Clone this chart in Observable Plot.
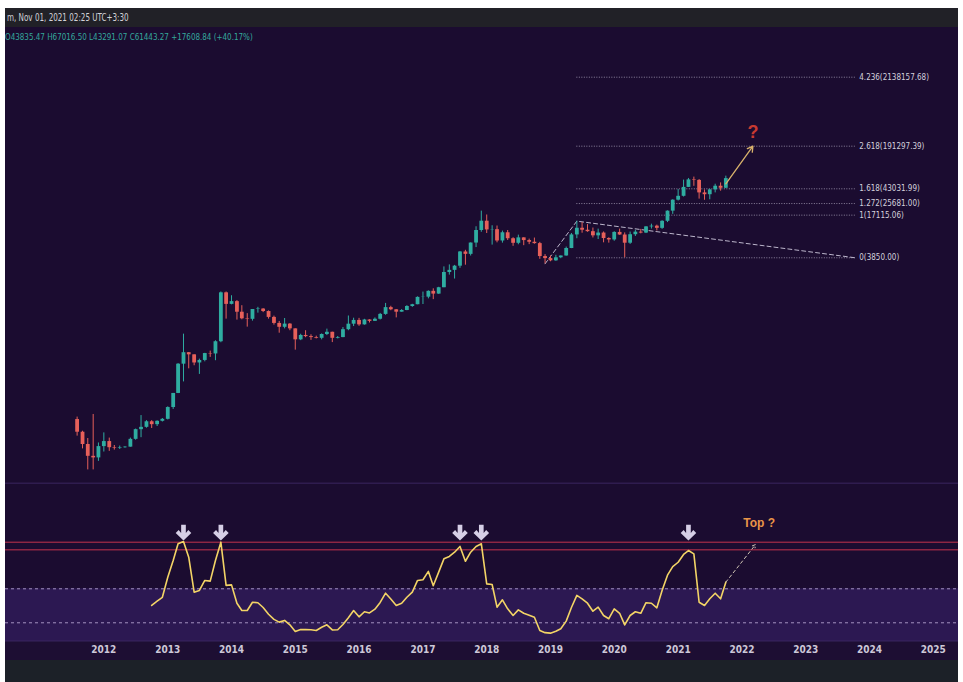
<!DOCTYPE html>
<html><head><meta charset="utf-8">
<script src="https://cdn.jsdelivr.net/npm/d3@7"></script>
<script src="https://cdn.jsdelivr.net/npm/@observablehq/plot@0.6"></script>
<style>
html,body{margin:0;padding:0;background:#fff;width:963px;height:682px;overflow:hidden;}
#wrap{position:absolute;left:5px;top:8px;width:953px;height:674px;background:#1b0c30;overflow:hidden;
  font-family:"Liberation Sans Narrow","DejaVu Sans Condensed","Liberation Sans",sans-serif;}
#hdr{position:absolute;left:0;top:0;width:953px;height:19px;background:#212127;}
#hdrtxt{position:absolute;left:2px;top:0;color:#d2d2d8;font-size:10px;line-height:19px;white-space:nowrap;transform:scaleX(0.8);transform-origin:left center;}
#ohlc{position:absolute;top:23px;left:0px;color:#34a89c;font-size:9.5px;white-space:nowrap;transform:scaleX(0.84);transform-origin:left center;}
#top{position:absolute;top:19px;left:0;}
#bot{position:absolute;top:474px;left:0;}
#foot{position:absolute;top:652px;left:0;width:953px;height:22px;background:#1c2128;}
svg{display:block;}
</style></head>
<body>
<div id="wrap">
  <div id="hdr"><div id="hdrtxt">m, Nov 01, 2021 02:25 UTC+3:30</div></div>
  <div id="top"></div>
  <div id="ohlc">O43835.47 H67016.50 L43291.07 C61443.27 +17608.84 (+40.17%)</div>
  <div id="bot"></div>
  <div id="foot"></div>
</div>
<script>
// ---------- Monthly candles, Aug 2011 .. Oct 2021 ----------
const candleStart = "2011-08-01", candleEnd = "2021-11-01";
const open = [
  13.4, 8.6, 5.6, 3.7, 3.5,
  5.2, 6.2, 5.0, 4.9, 5.0, 5.1, 6.7, 9.4, 10.2, 12.4, 11.2, 12.6,
  13.5, 20.4, 33.4, 93, 139, 129, 97, 106, 135, 133, 204, 1130,
  754, 830, 573, 455, 447, 630, 640, 587, 478, 387, 338, 378,
  320, 218, 254, 244, 236, 230, 263, 284, 230, 236, 311, 377,
  430, 368, 437, 416, 448, 531, 673, 624, 574, 609, 700, 745,
  963, 970, 1190, 1080, 1350, 2300, 2480, 2870, 4720, 4340, 6450, 10000,
  13850, 10200, 10300, 6930, 9240, 7500, 6390, 7730, 7030, 6630, 6320, 4020,
  3740, 3460, 3850, 4100, 5330, 8570, 10820, 10100, 9600, 8300, 9150, 7550,
  7190, 9350, 8540, 6410, 8630, 9450, 9140, 11350, 11650, 10780, 13800, 19700,
  28900, 33100, 45200, 58800, 57700, 37300, 35000, 41500, 47100, 43835.47
];
const high = [
  14.6, 8.9, 6.9, 16.0, 5.9,
  8.4, 7.0, 5.4, 5.3, 5.2, 7.0, 9.6, 15.4, 12.9, 12.9, 12.8, 13.9,
  20.9, 33.4, 95, 266, 140, 129, 111, 136, 147, 211, 1163, 1163,
  1020, 860, 720, 545, 630, 680, 650, 600, 500, 415, 460, 385,
  320, 265, 300, 260, 248, 268, 317, 285, 245, 335, 502, 465,
  462, 447, 440, 469, 550, 780, 705, 628, 628, 720, 756, 980,
  1160, 1210, 1300, 1370, 2800, 3000, 2950, 4800, 5000, 6470, 11400, 19700,
  17200, 11800, 11700, 9800, 10000, 7760, 8500, 7760, 7400, 7680, 6600, 4300,
  4100, 4200, 4100, 5600, 9000, 13880, 13200, 12300, 10900, 10500, 9500, 7750,
  9580, 10500, 9200, 9470, 10080, 10400, 11450, 12480, 12070, 14100, 19850, 29300,
  41950, 58350, 61800, 64800, 59500, 41300, 42400, 50500, 52900, 67016.5
];
const low = [
  7.5, 4.8, 2.3, 2.3, 3.1,
  4.3, 4.4, 4.6, 4.7, 4.9, 5.1, 6.5, 7.1, 9.9, 9.8, 10.5, 12.3,
  13.2, 19.1, 33.2, 50, 79, 88, 65, 101, 118, 105, 197, 450,
  742, 435, 440, 340, 420, 555, 565, 450, 365, 275, 320, 300,
  152, 212, 235, 214, 225, 218, 253, 198, 225, 235, 300, 347,
  350, 364, 393, 415, 436, 515, 604, 470, 574, 604, 680, 745,
  750, 915, 890, 1070, 1350, 2100, 1830, 2660, 2970, 4100, 5500, 9400,
  9000, 6000, 6500, 6430, 7050, 5750, 6070, 5880, 6100, 6200, 3650, 3120,
  3350, 3400, 3730, 4080, 5300, 7500, 9100, 9400, 7700, 7300, 6500, 6430,
  6870, 8450, 3850, 6150, 8120, 8900, 8990, 10520, 9850, 10400, 13200, 17600,
  28100, 32300, 45000, 47000, 30000, 28800, 29300, 37300, 39600, 43291.07
];
const close = [
  8.6, 5.6, 3.7, 3.5, 5.2,
  6.2, 5.0, 4.9, 5.0, 5.1, 6.7, 9.4, 10.2, 12.4, 11.2, 12.6, 13.5,
  20.4, 33.4, 93, 139, 129, 97, 106, 135, 133, 204, 1130, 754,
  830, 573, 455, 447, 630, 640, 587, 478, 387, 338, 378, 320,
  218, 254, 244, 236, 230, 263, 284, 230, 236, 311, 377, 430,
  368, 437, 416, 448, 531, 673, 624, 574, 609, 700, 745, 963,
  970, 1190, 1080, 1350, 2300, 2480, 2870, 4720, 4340, 6450, 10000, 13850,
  10200, 10300, 6930, 9240, 7500, 6390, 7730, 7030, 6630, 6320, 4020, 3740,
  3460, 3850, 4100, 5330, 8570, 10820, 10100, 9600, 8300, 9150, 7550, 7190,
  9350, 8540, 6410, 8630, 9450, 9140, 11350, 11650, 10780, 13800, 19700, 28900,
  33100, 45200, 58800, 57700, 37300, 35000, 41500, 47100, 43835.47, 61443.27
];

// ---------- Fibonacci extension ----------
const fibRatios = ["4.236", "2.618", "1.618", "1.272", "1", "0"];
const fibPrices = [2138157.68, 191297.39, 43031.99, 25681.00, 17115.06, 3850.00];
const fibFrom = "2019-06-01", fibTo = "2023-10-12";
const trendDates = ["2018-12-01", "2019-06-01", "2023-10-12"];
const trendPrices = [3122, 13880, 3850];
const projDates = ["2021-10-01", "2022-03-05"];
const projPrices = [51300, 191297.39];
const questionDate = "2022-03-05", questionPrice = 313000;

// ---------- Oscillator (monthly), Oct 2012 .. Oct 2021 ----------
const oscStart = "2012-10-01";
const osc = [
  60.2, 62.7, 65,
  76.8, 86.6, 96.5, 97.8, 88.6, 68, 69, 74.9, 74.5, 86.6, 97.4, 72,
  72.3, 61.5, 57.2, 57.2, 62.1, 61.8, 59, 55, 52, 50.4, 51.4, 48.8,
  44.9, 46.1, 46, 45.9, 45.5, 47.4, 48.8, 45.8, 45.9, 49, 53, 57.2,
  53.5, 56.5, 55.8, 58, 62, 67.4, 64, 60.2, 61.5, 65, 68, 74.9,
  75.3, 80.2, 71.8, 79.8, 87.6, 89, 91.5, 94.9, 86.2, 91.5, 94.9, 96.5,
  72.9, 72.5, 59.2, 63.5, 58.2, 54.3, 57.6, 55.6, 54.5, 53.3, 45.5, 44.2,
  43.9, 45, 46.5, 51, 59, 66.1, 64.1, 61.5, 56.8, 59.2, 54.3, 52.4,
  58.2, 55.6, 48.8, 54.3, 56.5, 55.6, 61.8, 61.5, 58.8, 69, 78, 83,
  85.6, 90.2, 92.5, 90.5, 62.1, 60.2, 64.1, 67.4, 64.1, 73.9
];
const redLevels = [97.4, 92.9];
const dashLevels = [70, 50];
const peakDates = ["2013-04-01", "2013-11-01", "2017-08-01", "2017-12-01", "2021-03-01"];
const peakMarkerLevel = 103;
const topProjDates = ["2021-10-01", "2022-03-20"];
const topProjValues = [73.9, 96];
const topLabel = "Top ?", topLabelDate = "2022-04-10", topLabelValue = 108.5;
const yearTicks = [2012,2013,2014,2015,2016,2017,2018,2019,2020,2021,2022,2023,2024,2025];

// ---------- build ----------
const D = s => new Date(s + "T00:00:00Z");
const months = d3.utcMonth.range(D(candleStart), D(candleEnd));
const candles = months.map((date, i) => ({date, open: open[i], high: high[i], low: low[i], close: close[i]}));
const oscDates = d3.utcMonth.range(D(oscStart), D(candleEnd));
const oscData = oscDates.map((date, i) => ({date, v: osc[i]}));
const xDomain = [D("2010-06-17"), D("2025-05-25")];
const UP = "#2fada1", DOWN = "#e6605a";
const col = d => d.close >= d.open ? UP : DOWN;
const font = '"Liberation Sans Narrow","DejaVu Sans Condensed","Liberation Sans",sans-serif';

const fibData = fibRatios.map((r, i) => ({label: `${r}(${fibPrices[i].toFixed(2)})`, y: fibPrices[i]}));

const topPlot = Plot.plot({
  width: 953, height: 455, margin: 0,
  style: {background: "transparent", fontFamily: font, overflow: "visible"},
  x: {type: "utc", domain: xDomain, axis: null},
  y: {type: "log", domain: [1.48, 1.217e7], axis: null},
  color: {type: "identity"},
  marks: [
    Plot.ruleY(fibData, {y: "y", x1: D(fibFrom), x2: D(fibTo), stroke: "#b4aec4", strokeOpacity: 0.75, strokeDasharray: "1,1.5"}),
    Plot.text(fibData, {x: D(fibTo), y: "y", text: "label", textAnchor: "start", dx: 4, fill: "#d4d0dc", fontSize: 8}),
    Plot.line(trendDates.map((d, i) => ({x: D(d), y: trendPrices[i]})), {x: "x", y: "y", stroke: "#d8d4e6", strokeOpacity: 0.85, strokeDasharray: "4,3", strokeWidth: 1}),
    Plot.ruleX(candles, {x: "date", y1: "low", y2: "high", stroke: col, strokeWidth: 1}),
    Plot.ruleX(candles, {x: "date", y1: "open", y2: "close", stroke: col, strokeWidth: 3.8}),
    Plot.arrow([0], {x1: D(projDates[0]), y1: projPrices[0], x2: D(projDates[1]), y2: projPrices[1], stroke: "#d9b36c", strokeWidth: 1.3, headLength: 7}),
    Plot.text([0], {x: D(questionDate), y: questionPrice, text: ["?"], fill: "#c83a30", fontSize: 18, fontWeight: "bold", fontFamily: "Liberation Sans, sans-serif"})
  ]
});
document.getElementById("top").appendChild(topPlot);

const arrowSymbol = {
  draw(ctx, size) {
    const r = Math.sqrt(size / Math.PI), w = 0.3 * r;
    ctx.moveTo(-w, -r); ctx.lineTo(w, -r); ctx.lineTo(w, 0.05 * r);
    ctx.lineTo(0.62 * r, -0.34 * r); ctx.lineTo(r, 0.04 * r); ctx.lineTo(0, r);
    ctx.lineTo(-r, 0.04 * r); ctx.lineTo(-0.62 * r, -0.34 * r); ctx.lineTo(-w, 0.05 * r);
    ctx.closePath();
  }
};

const yLo = 39, yHi = 132.5;
const botPlot = Plot.plot({
  width: 953, height: 178, marginTop: 0, marginBottom: 19, marginLeft: 0, marginRight: 0,
  style: {background: "#1d0e33", fontFamily: font, overflow: "visible"},
  x: {type: "utc", domain: xDomain, axis: null},
  y: {domain: [yLo, yHi], axis: null},
  marks: [
    Plot.rect([0], {x1: xDomain[0], x2: xDomain[1], y1: yLo, y2: yHi, fill: "#1b0c30"}),
    Plot.rect([0], {x1: xDomain[0], x2: xDomain[1], y1: yLo, y2: dashLevels[0], fill: "#2c1852"}),
    Plot.ruleY([yHi - 0.4, yLo + 0.3], {stroke: "#3b2560", strokeWidth: 1}),
    Plot.ruleY(redLevels, {stroke: "#c2334c", strokeWidth: 1}),
    Plot.ruleY(dashLevels, {stroke: "#b7a6d2", strokeOpacity: 0.85, strokeDasharray: "3,3"}),
    Plot.line(oscData, {x: "date", y: "v", stroke: "#f3d466", strokeWidth: 1.6}),
    Plot.arrow([0], {x1: D(topProjDates[0]), y1: topProjValues[0], x2: D(topProjDates[1]), y2: topProjValues[1], stroke: "#cfc4b4", strokeWidth: 1, strokeDasharray: "3,3", headLength: 5}),
    Plot.dot(peakDates.map(d => ({x: D(d)})), {x: "x", y: () => peakMarkerLevel, r: 7.8, symbol: arrowSymbol, fill: "#d6cfe6", stroke: "none"}),
    Plot.text([0], {x: D(topLabelDate), y: topLabelValue, text: [topLabel], fill: "#ea9548", fontSize: 12, fontWeight: "bold", fontFamily: "Liberation Sans, sans-serif"}),
    Plot.axisX({ticks: yearTicks.map(y => new Date(Date.UTC(y, 0, 1))), tickFormat: "%Y", tickSize: 0, tickPadding: 4, fill: "#cdc8d8", fontSize: 10, fontWeight: "bold", label: null})
  ]
});
document.getElementById("bot").appendChild(botPlot);
</script>
</body></html>
